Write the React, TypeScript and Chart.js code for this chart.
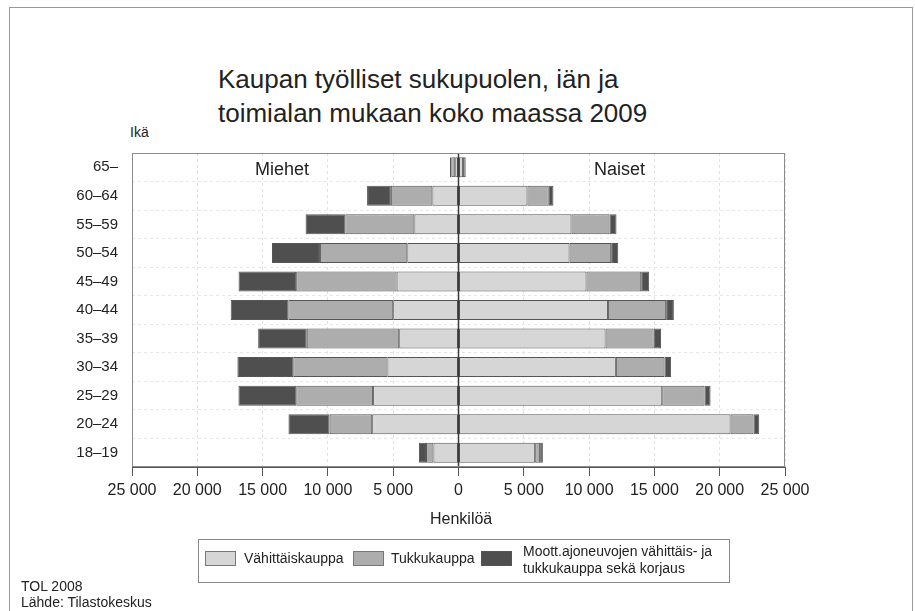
import React, { useEffect, useRef } from "react";
import { Chart, registerables } from "chart.js";

Chart.register(...registerables);

const ageGroups = ["65–", "60–64", "55–59", "50–54", "45–49", "40–44", "35–39", "30–34", "25–29", "20–24", "18–19"];

const menRetail = [250, 2000, 3380, 3920, 4740, 5000, 4540, 5440, 6540, 6610, 1920];
const menWholesale = [300, 3180, 5280, 6690, 7690, 8030, 7080, 7210, 5880, 3260, 570];
const menMotor = [100, 1820, 3050, 3670, 4410, 4410, 3720, 4280, 4430, 3150, 540];

const womenRetail = [350, 5280, 8650, 8500, 9800, 11440, 11260, 12050, 15600, 20830, 5870];
const womenWholesale = [180, 1630, 2910, 3190, 4190, 4460, 3680, 3720, 3240, 1760, 380];
const womenMotor = [60, 360, 540, 540, 610, 590, 570, 510, 460, 440, 210];

const xTickValues = [-25000, -20000, -15000, -10000, -5000, 0, 5000, 10000, 15000, 20000, 25000];

const seriesNames = ["Vähittäiskauppa", "Tukkukauppa", "Moott.ajoneuvojen vähittäis- ja tukkukauppa sekä korjaus"];
const seriesColors = ["#d6d6d6", "#adadad", "#4f4f4f"];

const FONT = "'Liberation Sans', Arial, Helvetica, sans-serif";

const fmt = (v: number) => String(Math.abs(v)).replace(/\B(?=(\d{3})+(?!\d))/g, " ");

const framePlugin = {
  id: "frameAndZero",
  afterDatasetsDraw(chart: any) {
    const { ctx, chartArea } = chart;
    const x0 = chart.scales.x.getPixelForValue(0);
    ctx.save();
    ctx.strokeStyle = "#3a3a3a";
    ctx.lineWidth = 1.5;
    ctx.beginPath();
    ctx.moveTo(x0, chartArea.top);
    ctx.lineTo(x0, chartArea.bottom);
    ctx.stroke();
    ctx.strokeStyle = "#8c8c8c";
    ctx.lineWidth = 1;
    ctx.strokeRect(chartArea.left + 0.5, chartArea.top + 0.5, chartArea.right - chartArea.left - 1, chartArea.bottom - chartArea.top - 1);
    ctx.restore();
  },
};

function PyramidChart() {
  const ref = useRef<HTMLCanvasElement | null>(null);
  useEffect(() => {
    if (!ref.current) return;
    const mk = (label: string, data: number[], color: string) => ({
      label,
      data,
      backgroundColor: color,
      borderColor: "#555555",
      borderWidth: 1,
      borderSkipped: false,
      stack: "all",
      barPercentage: 0.7,
      categoryPercentage: 1,
    });
    const chart = new Chart(ref.current, {
      type: "bar",
      data: {
        labels: ageGroups,
        datasets: [
          mk(seriesNames[0] + " (M)", menRetail.map((v) => -v), seriesColors[0]),
          mk(seriesNames[1] + " (M)", menWholesale.map((v) => -v), seriesColors[1]),
          mk(seriesNames[2] + " (M)", menMotor.map((v) => -v), seriesColors[2]),
          mk(seriesNames[0] + " (N)", womenRetail, seriesColors[0]),
          mk(seriesNames[1] + " (N)", womenWholesale, seriesColors[1]),
          mk(seriesNames[2] + " (N)", womenMotor, seriesColors[2]),
        ],
      },
      options: {
        indexAxis: "y",
        animation: false,
        responsive: false,
        maintainAspectRatio: false,
        layout: { padding: { left: 0, top: 153, right: 130, bottom: 0 } },
        plugins: { legend: { display: false }, tooltip: { enabled: false }, title: { display: false } },
        scales: {
          x: {
            stacked: true,
            min: -25000,
            max: 25000,
            afterBuildTicks: (s: any) => {
              s.ticks = xTickValues.map((v) => ({ value: v }));
            },
            afterFit: (s: any) => {
              s.height = 611 - 467;
            },
            ticks: {
              callback: (v: any) => fmt(Number(v)),
              color: "#222",
              font: { family: FONT, size: 16 },
              padding: 5,
              maxRotation: 0,
            },
            grid: {
              color: "#e2e2e2",
              drawTicks: true,
              tickLength: 9,
              tickColor: "#555",
              tickBorderDash: [],
            },
            border: { display: true, color: "#555", dash: [3, 3] },
          },
          y: {
            stacked: true,
            afterFit: (s: any) => {
              s.width = 132;
            },
            ticks: {
              color: "#222",
              font: { family: FONT, size: 15 },
              padding: 14,
            },
            grid: {
              color: "#e6e6e6",
              drawTicks: false,
              offset: true,
            },
            border: { display: false, dash: [3, 3] },
          },
        },
      },
      plugins: [framePlugin],
    } as any);
    return () => chart.destroy();
  }, []);
  return <canvas ref={ref} width={915} height={611} style={{ position: "absolute", left: 0, top: 0, width: 915, height: 611 }} />;
}

const txt: React.CSSProperties = { position: "absolute", fontFamily: FONT, color: "#222", whiteSpace: "nowrap" };

export default function App() {
  return (
    <div style={{ position: "fixed", left: 0, top: 0, width: 915, height: 611, background: "#fff", overflow: "hidden" }}>
      <div style={{ position: "absolute", left: 9, top: 7, width: 902, height: 640, borderTop: "1px solid #999", borderLeft: "1px solid #999", borderRight: "1px solid #999" }} />
      <div style={{ ...txt, left: 218, top: 62, fontSize: 26, lineHeight: "34px" }}>
        Kaupan työlliset sukupuolen, iän ja
        <br />
        toimialan mukaan koko maassa 2009
      </div>
      <div style={{ ...txt, left: 130, top: 124, fontSize: 14 }}>Ikä</div>
      <PyramidChart />
      <div style={{ ...txt, left: 255, top: 159, fontSize: 18 }}>Miehet</div>
      <div style={{ ...txt, left: 594, top: 159, fontSize: 18 }}>Naiset</div>
      <div style={{ ...txt, left: 430, top: 510, fontSize: 16 }}>Henkilöä</div>
      <div style={{ position: "absolute", left: 198, top: 539, width: 532, height: 44, border: "1px solid #888", boxSizing: "border-box" }}>
        <div style={{ position: "absolute", left: 6, top: 11, width: 31, height: 15, background: seriesColors[0], border: "1px solid #777", boxSizing: "border-box" }} />
        <div style={{ ...txt, left: 45, top: 10, fontSize: 14 }}>{seriesNames[0]}</div>
        <div style={{ position: "absolute", left: 154, top: 11, width: 31, height: 15, background: seriesColors[1], border: "1px solid #777", boxSizing: "border-box" }} />
        <div style={{ ...txt, left: 192, top: 10, fontSize: 14 }}>{seriesNames[1]}</div>
        <div style={{ position: "absolute", left: 282, top: 11, width: 31, height: 15, background: seriesColors[2], border: "1px solid #555", boxSizing: "border-box" }} />
        <div style={{ ...txt, left: 324, top: 3, fontSize: 14, lineHeight: "17px" }}>
          Moott.ajoneuvojen vähittäis- ja
          <br />
          tukkukauppa sekä korjaus
        </div>
      </div>
      <div style={{ ...txt, left: 21, top: 578, fontSize: 14, lineHeight: "16px" }}>
        TOL 2008
        <br />
        Lähde: Tilastokeskus
      </div>
    </div>
  );
}
